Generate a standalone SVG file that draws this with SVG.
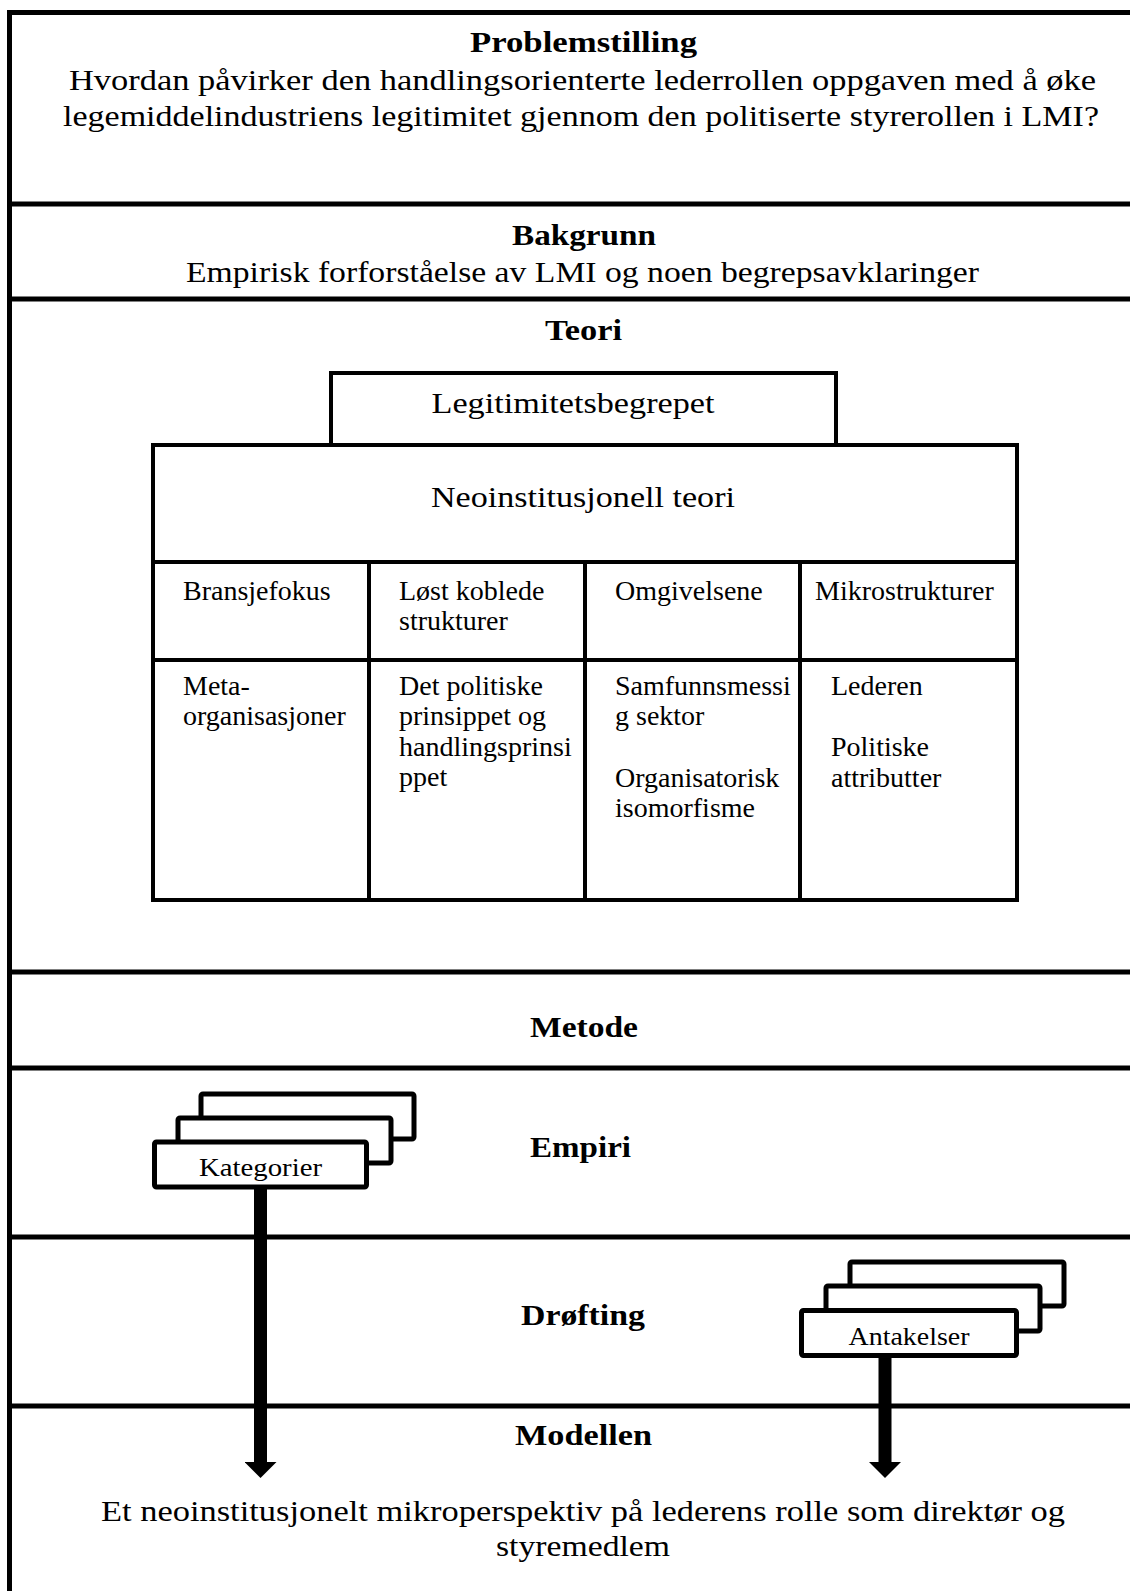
<svg xmlns="http://www.w3.org/2000/svg" width="1130" height="1591" viewBox="0 0 1130 1591">
  <style>
    .frame { fill: none; stroke: #000; stroke-width: 5; }
    .box { fill: #fff; stroke: #000; stroke-width: 4; }
    .card { fill: #fff; stroke: #000; stroke-width: 5; }
    .rule { stroke: #000; stroke-width: 4; }
    .h { font-family: "Liberation Serif", "Times New Roman", serif; font-weight: bold; font-size: 29px; text-anchor: middle; fill: #000; }
    .t { font-family: "Liberation Serif", "Times New Roman", serif; font-size: 30px; text-anchor: middle; fill: #000; }
    .c { font-family: "Liberation Serif", "Times New Roman", serif; font-size: 28px; fill: #000; }
    .k { font-family: "Liberation Serif", "Times New Roman", serif; font-size: 25px; text-anchor: middle; fill: #000; }
    .stem { stroke: #000; stroke-width: 13; fill: none; }
  </style>
  <defs>
    <marker id="head" markerUnits="userSpaceOnUse" viewBox="0 -16 16 32" refX="0" refY="0" markerWidth="16" markerHeight="32" orient="auto">
      <path d="M0,-16 L16,0 L0,16 Z" fill="#000"/>
    </marker>
  </defs>

  <rect width="1130" height="1591" fill="#fff"/>

  <!-- outer frame and section dividers -->
  <g id="frame">
    <path class="frame" d="M9.5,1600 V12.5 H1140"/>
    <line class="frame" x1="9.5" y1="204" x2="1140" y2="204"/>
    <line class="frame" x1="9.5" y1="299" x2="1140" y2="299"/>
    <line class="frame" x1="9.5" y1="972" x2="1140" y2="972"/>
    <line class="frame" x1="9.5" y1="1068" x2="1140" y2="1068"/>
    <line class="frame" x1="9.5" y1="1237" x2="1140" y2="1237"/>
    <line class="frame" x1="9.5" y1="1406" x2="1140" y2="1406"/>
  </g>

  <!-- Problemstilling -->
  <g id="problemstilling">
    <text class="h" x="583.5" y="52" textLength="227" lengthAdjust="spacingAndGlyphs">Problemstilling</text>
    <text class="t" x="582.5" y="90" textLength="1027" lengthAdjust="spacingAndGlyphs">Hvordan påvirker den handlingsorienterte lederrollen oppgaven med å øke</text>
    <text class="t" x="581" y="126" textLength="1036" lengthAdjust="spacingAndGlyphs">legemiddelindustriens legitimitet gjennom den politiserte styrerollen i LMI?</text>
  </g>

  <!-- Bakgrunn -->
  <g id="bakgrunn">
    <text class="h" x="584" y="245" textLength="144" lengthAdjust="spacingAndGlyphs">Bakgrunn</text>
    <text class="t" x="582.5" y="282" textLength="793" lengthAdjust="spacingAndGlyphs">Empirisk forforståelse av LMI og noen begrepsavklaringer</text>
  </g>

  <!-- Teori -->
  <g id="teori">
    <text class="h" x="583.5" y="340" textLength="77" lengthAdjust="spacingAndGlyphs">Teori</text>
  </g>

  <g id="legitimitetsbegrepet">
    <rect class="box" x="331" y="373" width="505" height="72"/>
    <text class="t" x="573" y="413" textLength="283" lengthAdjust="spacingAndGlyphs">Legitimitetsbegrepet</text>
  </g>

  <g id="neoinstitusjonell">
    <rect class="box" x="153" y="445" width="864" height="455"/>
    <line class="rule" x1="153" y1="562" x2="1017" y2="562"/>
    <line class="rule" x1="153" y1="660" x2="1017" y2="660"/>
    <line class="rule" x1="369" y1="562" x2="369" y2="900"/>
    <line class="rule" x1="585" y1="562" x2="585" y2="900"/>
    <line class="rule" x1="800" y1="562" x2="800" y2="900"/>
    <text class="t" x="583" y="507" textLength="304" lengthAdjust="spacingAndGlyphs">Neoinstitusjonell teori</text>
  </g>

  <g id="col-bransjefokus">
    <text class="c" x="183" y="600">Bransjefokus</text>
    <text class="c" x="183" y="695">Meta-</text>
    <text class="c" x="183" y="725">organisasjoner</text>
  </g>

  <g id="col-lost-koblede">
    <text class="c" x="399" y="600">Løst koblede</text>
    <text class="c" x="399" y="630">strukturer</text>
    <text class="c" x="399" y="695">Det politiske</text>
    <text class="c" x="399" y="725">prinsippet og</text>
    <text class="c" x="399" y="756">handlingsprinsi</text>
    <text class="c" x="399" y="786">ppet</text>
  </g>

  <g id="col-omgivelsene">
    <text class="c" x="615" y="600">Omgivelsene</text>
    <text class="c" x="615" y="695">Samfunnsmessi</text>
    <text class="c" x="615" y="725">g sektor</text>
    <text class="c" x="615" y="787">Organisatorisk</text>
    <text class="c" x="615" y="817">isomorfisme</text>
  </g>

  <g id="col-mikrostrukturer">
    <text class="c" x="815" y="600">Mikrostrukturer</text>
    <text class="c" x="831" y="695">Lederen</text>
    <text class="c" x="831" y="756">Politiske</text>
    <text class="c" x="831" y="787">attributter</text>
  </g>

  <!-- Metode -->
  <g id="metode">
    <text class="h" x="584" y="1037" textLength="108" lengthAdjust="spacingAndGlyphs">Metode</text>
  </g>

  <!-- Empiri -->
  <g id="empiri">
    <text class="h" x="580.5" y="1157" textLength="101" lengthAdjust="spacingAndGlyphs">Empiri</text>
  </g>

  <!-- Drøfting -->
  <g id="drofting">
    <text class="h" x="583" y="1325" textLength="124" lengthAdjust="spacingAndGlyphs">Drøfting</text>
  </g>

  <!-- Modellen -->
  <g id="modellen">
    <text class="h" x="583.5" y="1445" textLength="137" lengthAdjust="spacingAndGlyphs">Modellen</text>
    <text class="t" x="583" y="1521" textLength="964" lengthAdjust="spacingAndGlyphs">Et neoinstitusjonelt mikroperspektiv på lederens rolle som direktør og</text>
    <text class="t" x="583" y="1556" textLength="174" lengthAdjust="spacingAndGlyphs">styremedlem</text>
  </g>

  <!-- connectors: thick arrows down into the model section -->
  <g id="connectors">
    <line class="stem" x1="260.5" y1="1186" x2="260.5" y2="1462" marker-end="url(#head)"/>
    <line class="stem" x1="885" y1="1355" x2="885" y2="1462" marker-end="url(#head)"/>
  </g>

  <!-- stacked cards: Kategorier -->
  <g id="kategorier">
    <rect class="card" x="201" y="1094" width="213" height="45" rx="2"/>
    <rect class="card" x="178" y="1118" width="213" height="45" rx="2"/>
    <rect class="card" x="154.5" y="1142" width="212" height="45" rx="2"/>
    <text class="k" x="260.5" y="1176" textLength="123" lengthAdjust="spacingAndGlyphs">Kategorier</text>
  </g>

  <!-- stacked cards: Antakelser -->
  <g id="antakelser">
    <rect class="card" x="850" y="1262" width="214" height="44" rx="2"/>
    <rect class="card" x="826" y="1286" width="214" height="45" rx="2"/>
    <rect class="card" x="801.5" y="1310.5" width="215" height="45" rx="2"/>
    <text class="k" x="909" y="1345" textLength="121" lengthAdjust="spacingAndGlyphs">Antakelser</text>
  </g>
</svg>
